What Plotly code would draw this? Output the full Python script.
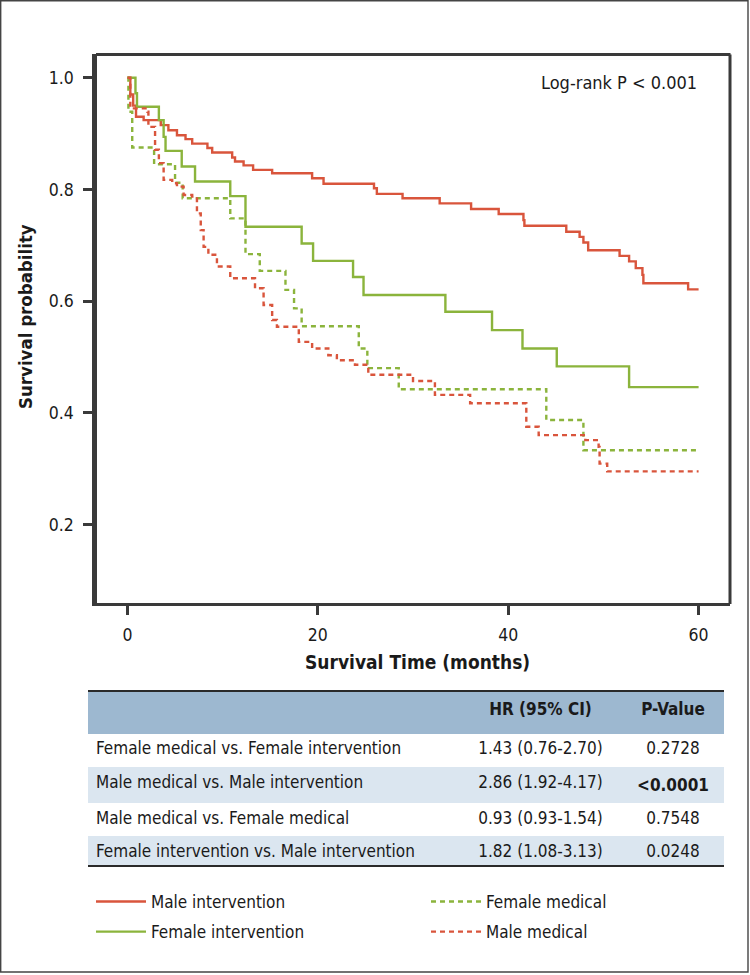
import plotly.graph_objects as go

# ---------------- data ----------------
mi_t = [0, 0.3, 0.6, 0.9, 1.7, 3.5, 4.3, 5.2, 6.1, 6.8, 8.4, 8.9, 11.0, 11.3, 12.2, 13.2,
        15.2, 19.4, 20.6, 25.9, 26.2, 28.9, 32.8, 36.1, 39.0, 41.6, 41.7, 46.1, 47.5, 47.9,
        48.4, 51.7, 52.7, 53.4, 54.1, 54.2, 58.9, 60]
mi_s = [1.0, 0.97, 0.95, 0.93, 0.924, 0.915, 0.906, 0.897, 0.890, 0.882, 0.874, 0.866, 0.857,
        0.850, 0.843, 0.835, 0.829, 0.820, 0.810, 0.802, 0.792, 0.784, 0.775, 0.765, 0.756,
        0.745, 0.735, 0.724, 0.715, 0.705, 0.691, 0.681, 0.671, 0.659, 0.647, 0.632, 0.621, 0.621]

fi_t = [0, 0.84, 1.0, 3.3, 3.8, 4.0, 5.7, 7.1, 10.8, 12.4, 18.3, 19.5, 23.7, 24.8, 33.4, 38.3,
        41.5, 45.1, 52.7, 60]
fi_s = [1.0, 0.972, 0.948, 0.924, 0.894, 0.869, 0.841, 0.814, 0.788, 0.733, 0.703, 0.672, 0.643,
        0.611, 0.581, 0.548, 0.515, 0.483, 0.446, 0.446]

fm_t = [0, 0.1, 0.5, 2.8, 5.0, 5.8, 10.8, 12.4, 13.9, 16.6, 17.5, 18.3, 24.3, 25.2, 28.5, 44.0,
        47.9, 60]
fm_s = [1.0, 0.939, 0.875, 0.845, 0.812, 0.784, 0.748, 0.684, 0.654, 0.620, 0.587, 0.555, 0.515,
        0.480, 0.442, 0.387, 0.333, 0.333]

mm_t = [0, 0.3, 2.1, 2.2, 2.9, 3.3, 3.8, 4.7, 5.2, 5.9, 6.8, 7.3, 7.7, 8.0, 8.5, 9.4, 10.8, 13.4,
        14.3, 15.2, 15.7, 18.0, 19.4, 21.1, 22.0, 23.9, 25.3, 30.0, 32.3, 36.0, 41.9, 43.2, 48.1,
        49.5, 49.6, 50.4, 60]
mm_s = [1.0, 0.945, 0.939, 0.912, 0.871, 0.847, 0.817, 0.811, 0.805, 0.790, 0.787, 0.757, 0.727,
        0.697, 0.683, 0.662, 0.641, 0.623, 0.593, 0.566, 0.554, 0.527, 0.515, 0.503, 0.494, 0.486,
        0.468, 0.457, 0.432, 0.417, 0.375, 0.360, 0.351, 0.339, 0.309, 0.295, 0.295]

x_ticks = [0, 20, 40, 60]
y_ticks = [0.2, 0.4, 0.6, 0.8, 1.0]

tbl_header = ["", "HR (95% CI)", "P-Value"]
tbl_comparisons = ["Female medical vs. Female intervention",
                   "Male medical vs. Male intervention",
                   "Male medical vs. Female medical",
                   "Female intervention vs. Male intervention"]
tbl_hr = ["1.43 (0.76-2.70)", "2.86 (1.92-4.17)", "0.93 (0.93-1.54)", "1.82 (1.08-3.13)"]
tbl_p = ["0.2728", "&lt;0.0001", "0.7548", "0.0248"]
tbl_p_bold = [False, True, False, False]

# ---------------- style ----------------
W, H = 750, 975
FONT = "Liberation Sans Narrow, Arial Narrow, DejaVu Sans Condensed, sans-serif"
RED = "#d9553c"
GREEN = "#8bb43c"
AX = "#3a3a3a"
TXT = "#1a1a1a"
HEAD = "#9db8d0"
ALT = "#dbe6f0"

ML, MR, MT, MB = 88, 20, 54, 105
PW = W - ML - MR
PH = H - MT - MB


def px2x(px):
    return (px - ML) / PW


def py2y(py):
    return (H - MB - py) / PH


series = [
    ("Male intervention", mi_t, mi_s, RED, "solid", "legend"),
    ("Female intervention", fi_t, fi_s, GREEN, "solid", "legend"),
    ("Female medical", fm_t, fm_s, GREEN, "5px,4px", "legend2"),
    ("Male medical", mm_t, mm_s, RED, "5px,4px", "legend2"),
]

fig = go.Figure()
for name, t, s, col, dash, leg in series:
    fig.add_trace(go.Scatter(
        x=t, y=s, mode="lines", name=name, line=dict(color=col, width=2.4, dash=dash, shape="hv"),
        legend=leg, legendgroup=name, showlegend=True, hoverinfo="x+y+name"))

# table
fills = [ALT if i % 2 else "white" for i in range(len(tbl_comparisons))]
p_vals = ["<b>%s</b>" % p if b else p for p, b in zip(tbl_p, tbl_p_bold)]
fig.add_trace(go.Table(
    domain=dict(x=[0, px2x(724)], y=[py2y(866), py2y(691)]),
    columnwidth=[371, 163, 102],
    header=dict(values=["<b>%s</b>" % h if h else "" for h in tbl_header],
                fill_color=HEAD, align=["left", "center", "center"],
                font=dict(family=FONT, size=17, color=TXT), height=42.5,
                line=dict(width=0, color=HEAD)),
    cells=dict(values=[tbl_comparisons, tbl_hr, p_vals],
               fill_color=[fills, fills, fills], align=["left", "center", "center"],
               font=dict(family=FONT, size=17, color=TXT), height=33.3,
               line=dict(width=0, color="white")),
))

shapes = [
    # plot frame top/right
    dict(type="line", xref="paper", yref="paper", x0=px2x(96), x1=px2x(730.5), y0=py2y(54.5), y1=py2y(54.5),
         line=dict(color=AX, width=3.2)),
    dict(type="line", xref="paper", yref="paper", x0=px2x(730), x1=px2x(730), y0=py2y(54.5), y1=py2y(604),
         line=dict(color=AX, width=3)),
    # table rules
    dict(type="line", xref="paper", yref="paper", x0=px2x(88), x1=px2x(724), y0=py2y(691), y1=py2y(691),
         line=dict(color="#2a2a2a", width=2.2)),
    dict(type="line", xref="paper", yref="paper", x0=px2x(88), x1=px2x(724), y0=py2y(866), y1=py2y(866),
         line=dict(color="#2a2a2a", width=2.2)),
    # outer frame
    dict(type="rect", xref="paper", yref="paper", x0=px2x(0.7), x1=px2x(748), y0=py2y(0.7), y1=py2y(972),
         line=dict(color="#444", width=1.4)),
]

annotations = [
    dict(text="Log-rank P &lt; 0.001", xref="paper", yref="paper", x=px2x(699), y=py2y(82),
         xanchor="right", yanchor="middle", showarrow=False, font=dict(family=FONT, size=18, color=TXT)),
    dict(text="<b>Survival Time (months)</b>", xref="paper", yref="paper", x=px2x(418), y=py2y(662),
         xanchor="center", yanchor="middle", showarrow=False, font=dict(family=FONT, size=19, color=TXT)),
    dict(text="<b>Survival probability</b>", xref="paper", yref="paper", x=px2x(25), y=py2y(317),
         xanchor="center", yanchor="middle", textangle=-90, showarrow=False,
         font=dict(family=FONT, size=18.5, color=TXT)),
]

fig.update_layout(
    width=W, height=H, margin=dict(l=ML, r=MR, t=MT, b=MB),
    paper_bgcolor="white", plot_bgcolor="white",
    font=dict(family=FONT, size=17, color=TXT),
    shapes=shapes, annotations=annotations,
    xaxis=dict(domain=[px2x(97), 1.0], range=[-3.2, 63.3], tickvals=x_ticks,
               ticktext=[str(v) for v in x_ticks], showgrid=False, zeroline=False,
               showline=True, linecolor=AX, linewidth=3.4, ticks="outside", ticklen=9,
               tickwidth=3, tickcolor=AX, tickfont=dict(family=FONT, size=17.5, color=TXT),
               ticklabelstandoff=5),
    yaxis=dict(domain=[py2y(603), 1.0], range=[0.0594, 1.0424], tickvals=y_ticks,
               ticktext=["%.1f" % v for v in y_ticks], showgrid=False, zeroline=False,
               showline=True, linecolor=AX, linewidth=4.5, ticks="outside", ticklen=9,
               tickwidth=3, tickcolor=AX, tickfont=dict(family=FONT, size=17.5, color=TXT),
               ticklabelstandoff=6),
    legend=dict(x=px2x(91), y=py2y(884), xanchor="left", yanchor="top", orientation="v",
                font=dict(family=FONT, size=17, color=TXT), bgcolor="rgba(0,0,0,0)",
                tracegroupgap=5, itemwidth=50),
    legend2=dict(x=px2x(426), y=py2y(884), xanchor="left", yanchor="top", orientation="v",
                 font=dict(family=FONT, size=17, color=TXT), bgcolor="rgba(0,0,0,0)",
                 tracegroupgap=5, itemwidth=50),
)

fig.write_html("out.html", config={"displayModeBar": False},
               post_script="document.body.style.margin='0';document.body.style.overflow='hidden';")
